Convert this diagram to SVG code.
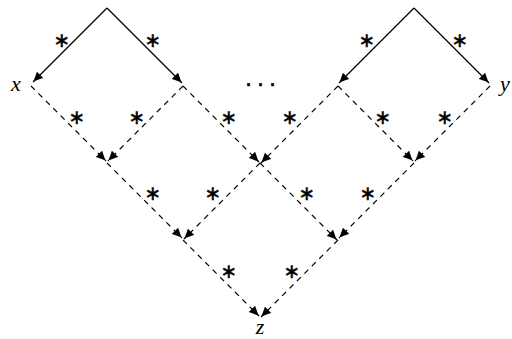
<svg xmlns="http://www.w3.org/2000/svg" width="512" height="339" viewBox="0 0 512 339">
<style>
.s{stroke:#000;stroke-width:1.2;fill:none}
.d{stroke:#000;stroke-width:1.2;fill:none;stroke-dasharray:5.5 5}
.st{font-family:"DejaVu Sans",sans-serif;font-size:20px;text-anchor:middle;fill:#000;stroke:#000;stroke-width:0.4}
.v{font-family:"Liberation Serif",serif;font-style:italic;font-size:22px;text-anchor:middle;fill:#000}
</style>
<defs>
<marker id="ah" viewBox="-11 -5 12 10" refX="0" refY="0" markerWidth="12" markerHeight="10" markerUnits="userSpaceOnUse" orient="auto">
<path d="M0,0 C-3,-1 -7,-3 -10,-4.5 L-10,4.5 C-7,3 -3,1 0,0 Z" fill="#000"/>
</marker>
</defs>
<rect width="512" height="339" fill="#fff"/>
<g id="connectors">
<line class="s" x1="107" y1="8" x2="33" y2="82" marker-end="url(#ah)"/>
<line class="s" x1="107" y1="8" x2="182" y2="83" marker-end="url(#ah)"/>
<line class="s" x1="414" y1="8" x2="339" y2="83" marker-end="url(#ah)"/>
<line class="s" x1="414" y1="8" x2="489" y2="83" marker-end="url(#ah)"/>
<line class="d" x1="31" y1="86" x2="106" y2="161" marker-end="url(#ah)"/>
<line class="d" x1="183" y1="86" x2="108" y2="161" marker-end="url(#ah)"/>
<line class="d" x1="183" y1="86" x2="259" y2="162" marker-end="url(#ah)"/>
<line class="d" x1="338" y1="86" x2="261" y2="163" marker-end="url(#ah)"/>
<line class="d" x1="338" y1="86" x2="413" y2="161" marker-end="url(#ah)"/>
<line class="d" x1="490" y1="86" x2="415" y2="161" marker-end="url(#ah)"/>
<line class="d" x1="107" y1="163" x2="182" y2="238" marker-end="url(#ah)"/>
<line class="d" x1="260" y1="163" x2="184" y2="239" marker-end="url(#ah)"/>
<line class="d" x1="260" y1="163" x2="337" y2="240" marker-end="url(#ah)"/>
<line class="d" x1="414" y1="163" x2="339" y2="238" marker-end="url(#ah)"/>
<line class="d" x1="183" y1="240" x2="259" y2="316" marker-end="url(#ah)"/>
<line class="d" x1="338" y1="240" x2="261" y2="317" marker-end="url(#ah)"/>
</g>
<g id="labels">
<text class="st" x="62" y="47">∗</text>
<text class="st" x="153" y="47">∗</text>
<text class="st" x="367" y="47">∗</text>
<text class="st" x="460" y="47">∗</text>
<text class="st" x="77" y="124">∗</text>
<text class="st" x="137" y="124">∗</text>
<text class="st" x="229" y="124">∗</text>
<text class="st" x="290" y="124">∗</text>
<text class="st" x="383" y="124">∗</text>
<text class="st" x="445" y="124">∗</text>
<text class="st" x="153" y="200">∗</text>
<text class="st" x="213" y="200">∗</text>
<text class="st" x="307" y="200">∗</text>
<text class="st" x="368" y="200">∗</text>
<text class="st" x="229" y="278">∗</text>
<text class="st" x="292" y="278">∗</text>
</g>
<g id="node-x"><text class="v" x="16" y="91">x</text></g>
<g id="node-y"><text class="v" x="505" y="91">y</text></g>
<g id="node-z"><text class="v" x="260" y="334">z</text></g>
<g id="node-dots"><text x="263" y="92" style="font-family:'DejaVu Sans',sans-serif;font-size:22px;letter-spacing:5px;text-anchor:middle;fill:#000;stroke:#000;stroke-width:0.5">···</text></g>
</svg>
